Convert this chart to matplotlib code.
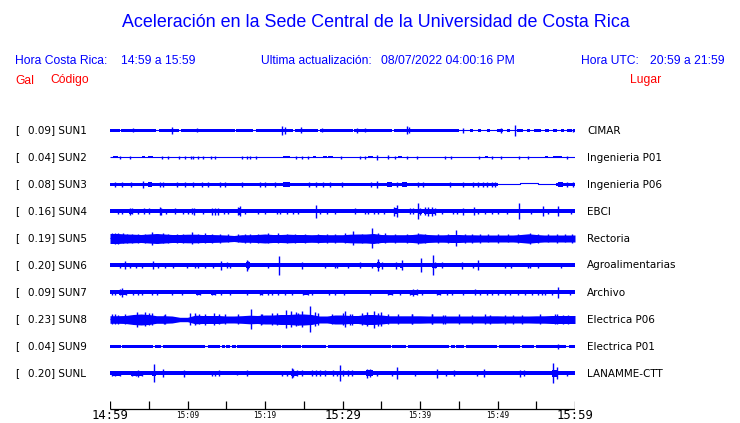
import numpy as np
import matplotlib
matplotlib.use('Agg')
import matplotlib.pyplot as plt

W, H = 740, 423
BLUE = '#0000ff'
RED = '#ff0000'

# ---------------- data ----------------
codes = ['SUN1', 'SUN2', 'SUN3', 'SUN4', 'SUN5', 'SUN6', 'SUN7', 'SUN8', 'SUN9', 'SUNL']
peak_gal = [0.09, 0.04, 0.08, 0.16, 0.19, 0.20, 0.09, 0.23, 0.04, 0.20]
places = ['CIMAR', 'Ingenieria P01', 'Ingenieria P06', 'EBCI', 'Rectoria',
          'Agroalimentarias', 'Archivo', 'Electrica P06', 'Electrica P01', 'LANAMME-CTT']
tick_minutes = list(range(0, 61, 5))
label_minutes = [0, 10, 20, 30, 40, 50, 60]
label_texts = ['14:59', '15:09', '15:19', '15:29', '15:39', '15:49', '15:59']
major_texts = ['14:59', '15:29', '15:59']

# trace envelopes: (start_min, end_min, half_amplitude)
# and spikes: (minute, half_amplitude); amplitudes in trace units
SUN1_band = [(0, 1.25, 1.4), (1.4, 5.9, 1.5), (6.3, 8.95, 1.5), (9.1, 12.6, 1.4), (12.7, 16.1, 1.4),
             (16.2, 18.4, 1.4), (18.8, 23.6, 1.4), (23.9, 26.9, 1.3), (27.1, 31.3, 1.4),
             (31.5, 36.4, 1.3), (36.7, 45.0, 1.4), (46.5, 46.8, 1.1), (47.5, 47.9, 1.1),
             (48.6, 49.0, 1.1), (49.9, 50.7, 1.2), (51.2, 51.6, 1.1), (52.5, 53.3, 1.2),
             (53.8, 54.2, 1.1), (54.7, 55.6, 1.1), (56.1, 56.6, 1.1), (57.1, 57.7, 1.1),
             (58.2, 58.6, 1.1), (59.0, 59.6, 1.1), (59.8, 60, 1.3)]
SUN1_spikes = [(3.0, 2), (8.0, 3.5), (11.2, 2), (22.2, 4.5), (22.6, 3.5), (24.6, 3), (27.3, 2),
               (31.9, 2.5), (32.9, 2), (38.3, 4), (38.6, 3), (45.5, 2.5), (50.5, 2.5),
               (52.2, 5.5), (59.8, 1.5)]

SUN2_band = [(0.43, 1.08, 1.0), (4.09, 4.52, 1.0), (4.95, 5.59, 1.0), (22.37, 23.23, 1.0),
             (26.24, 26.54, 1.0), (27.53, 27.96, 1.0), (28.17, 28.82, 1.0), (33.33, 33.98, 1.0),
             (37.2, 37.63, 1.0), (48.39, 48.82, 1.0), (56.13, 56.56, 1.0), (57.2, 58.28, 1.0)]
SUN2_spikes = [(1.29, 1.3), (2.58, 1.3), (6.67, 1.3), (7.53, 1.3), (8.9, 1.3), (9.68, 1.3),
               (10.45, 1.3), (10.75, 1.3), (11.31, 1.3), (11.96, 1.3), (13.03, 1.3), (13.55, 1.3),
               (16.99, 1.3), (17.63, 1.3), (18.06, 1.3), (18.84, 1.3), (23.96, 1.3), (24.82, 1.3),
               (25.59, 1.3), (29.76, 1.3), (32.26, 1.3), (32.9, 1.3), (34.41, 2.5), (35.83, 2.0),
               (36.77, 1.3), (38.28, 1.3), (39.57, 1.3), (43.23, 1.3), (43.96, 1.3), (47.66, 1.3),
               (49.25, 1.3), (50.41, 1.3), (52.82, 1.3), (53.89, 1.3), (58.92, 1.3)]

SUN3_band = [(0, 50.1, 1.7), (57.6, 60, 1.7), (4.86, 5.38, 2.3), (22.37, 23.23, 2.8),
             (35.7, 36.34, 2.3), (37.63, 38.28, 2.5), (57.85, 58.5, 2.3)]
SUN3_spikes = [(0.65, 2.3), (1.59, 2.3), (2.67, 2.3), (4.30, 3.5), (6.45, 2.3), (6.88, 2.3),
               (8.6, 2.3), (9.68, 2.3), (10.75, 2.3), (11.83, 2.3), (12.69, 2.3), (14.19, 2.3),
               (14.84, 2.3), (16.99, 2.3), (19.35, 2.3), (20.0, 2.3), (21.29, 2.3), (25.68, 2.3),
               (26.54, 2.3), (27.53, 2.3), (28.39, 2.3), (29.89, 2.3), (33.68, 2.3), (34.41, 3.5),
               (36.99, 2.3), (39.78, 2.3), (40.43, 2.3), (43.87, 2.3), (45.59, 2.3), (46.88, 2.3),
               (47.53, 2.3), (48.17, 2.3), (48.6, 2.3), (49.25, 2.3), (49.68, 2.3), (58.92, 2.3),
               (59.78, 2.3)]
SUN3_step_t = [0, 52.9, 55.2, 60]
SUN3_step_off = [0, -1.3, 0, 0]

SUN4_band = [(0, 60, 2.0), (2.5, 2.9, 2.8), (16.5, 16.9, 3.2), (36.7, 37.1, 3.0),
             (39.7, 40.2, 2.5), (40.5, 42.0, 2.8)]
SUN4_spikes = [(0.99, 2.5), (1.51, 2.5), (2.58, 3.5), (2.8, 3.0), (3.66, 2.5), (4.43, 3),
               (5.03, 3), (6.45, 4), (6.58, 3.5), (7.23, 2.5), (8.39, 3), (9.46, 2.5), (10.11, 2.5),
               (10.62, 3), (10.88, 3.5), (12.04, 2.5), (13.12, 3.5), (13.55, 3.5), (13.98, 3.5),
               (14.75, 2.5), (15.27, 2.5), (16.56, 4), (16.77, 5), (17.42, 2.5), (19.14, 2.5),
               (20.0, 2.5), (21.51, 2.5), (21.94, 2.5), (22.8, 2.5), (23.66, 2.5), (24.3, 2.5),
               (26.54, 6.5), (27.1, 2.5), (27.96, 2.5), (29.03, 2.5), (31.61, 3), (32.9, 2.5),
               (33.33, 2.5), (34.11, 2.5), (34.62, 2.5), (35.4, 2.5), (36.69, 4.5), (36.99, 6),
               (38.71, 3), (39.14, 3), (39.78, 8), (40.0, 3.5), (40.65, 4), (41.08, 4.5),
               (41.5, 4.5), (41.94, 3.5), (42.8, 2.5), (44.3, 2.5), (44.73, 2.5), (45.59, 3.5),
               (47.01, 4), (47.53, 2.5), (48.39, 2.5), (49.25, 2.5), (50.11, 2.5), (51.18, 2.5),
               (52.82, 8), (54.32, 2.5), (55.83, 5), (56.56, 2.5), (57.76, 5), (59.48, 2.5)]

SUN5_env = [5.0, 5.0, 4.5, 4.3, 4.0, 4.5, 5.0, 4.5, 4.0, 4.0,
            4.3, 4.3, 4.0, 4.0, 3.8, 3.5, 3.0, 3.8, 3.8, 4.0,
            4.5, 4.0, 4.0, 4.3, 4.0, 4.0, 3.8, 4.0, 3.8, 3.8,
            3.8, 4.3, 4.5, 4.5, 5.0, 4.0, 3.8, 3.8, 3.8, 4.0,
            4.7, 4.0, 3.7, 3.7, 4.0, 4.0, 3.7, 3.7, 3.5, 3.5,
            3.5, 3.5, 3.5, 4.0, 4.7, 4.0, 3.5, 3.5, 3.5, 3.5,
            3.5]
SUN5_spikes = [(0.65, 5.5), (1.72, 5), (2.15, 4.5), (3.66, 4.5), (5.38, 6.5), (6.88, 5),
               (8.6, 4.5), (10.62, 6), (13.12, 4.5), (15.27, 4), (16.56, 4), (18.06, 4.5),
               (20.43, 5), (22.8, 4.5), (25.16, 4.5), (29.03, 4.5), (31.4, 7), (33.76, 10),
               (35.48, 5), (36.77, 4.5), (39.78, 5.5), (42.37, 4.5), (44.6, 8), (46.67, 4.5),
               (48.82, 4), (51.4, 4), (54.19, 5.5), (56.56, 4), (58.71, 4),
               (0.22, 5), (1.08, 5.5), (2.8, 4.5), (4.52, 4.5), (6.24, 4.5), (7.53, 4.5),
               (9.46, 4.5), (11.4, 4.5), (12.26, 5), (14.19, 4.5), (17.42, 4.5), (19.14, 4.5),
               (21.72, 5), (23.87, 4.5), (26.88, 4.5), (27.96, 4.5), (30.32, 5), (32.47, 4.5),
               (34.62, 5), (38.28, 4.5), (40.65, 4.5), (43.66, 4.5), (45.81, 4.5), (47.74, 4.5),
               (50.11, 4.5), (52.69, 4.5), (55.27, 4.5), (57.63, 4.5), (59.57, 4.5)]

SUN6_band = [(0, 60, 2.0), (17.5, 18.0, 3.0), (34.4, 34.9, 3.0), (37.4, 37.8, 2.8), (41.5, 42.2, 2.8)]
SUN6_spikes = [(1.29, 2.5), (1.94, 4), (2.58, 2.5), (3.31, 2.5), (4.09, 2.5), (5.59, 4),
               (6.15, 2.5), (7.1, 2.5), (8.17, 2.5), (9.89, 2.5), (10.97, 2.5), (11.4, 2.5),
               (12.26, 2.5), (13.33, 2.5), (14.32, 4.5), (15.05, 3), (15.48, 2.5), (17.63, 5.5),
               (17.85, 4), (20.43, 2.5), (21.85, 9.5), (24.73, 3.5), (27.74, 2.5), (29.03, 2.5),
               (29.25, 2.5), (30.75, 2.5), (32.26, 3), (33.76, 2.5), (34.54, 6), (35.05, 3.5),
               (36.86, 3.5), (37.63, 5), (40.13, 7), (41.63, 10), (41.94, 3), (42.8, 3),
               (45.38, 3.5), (46.88, 2.5), (47.44, 5), (50.97, 2.5), (51.74, 2.5), (53.89, 2.5),
               (54.19, 2.5), (55.27, 2.5), (58.19, 2.5)]

SUN7_band = [(0, 60, 2.0), (1.2, 2.0, 2.8), (11.1, 11.7, 2.5), (13.0, 13.6, 2.5), (19.3, 19.8, 2.5),
             (24.9, 25.6, 2.5), (35.9, 36.4, 2.5), (38.9, 39.6, 2.8), (42.2, 42.6, 2.5)]
SUN7_spikes = [(0.22, 2.5), (0.65, 2.5), (1.3, 3), (1.59, 4.5), (2.02, 2.5), (3.01, 2.5),
               (3.66, 2.5), (4.09, 2.5), (5.38, 2.5), (6.02, 2.5), (7.96, 2.5), (9.33, 2.5),
               (11.18, 2.5), (11.61, 2.5), (13.12, 2.5), (13.55, 2.5), (14.32, 2.5), (15.48, 2.5),
               (17.63, 2.5), (19.35, 2.5), (19.57, 2.5), (20.43, 2.5), (20.86, 2.5), (21.72, 2.5),
               (22.58, 2.5), (23.44, 2.5), (24.95, 2.5), (25.59, 2.5), (26.02, 2.5), (28.26, 2.5),
               (29.03, 2.5), (30.24, 2.5), (33.55, 2.5), (35.91, 2.5), (36.34, 2.5), (37.42, 2.5),
               (38.71, 2.5), (39.14, 3.5), (39.57, 3), (40.22, 2.5), (42.15, 2.5), (42.58, 2.5),
               (43.44, 2.5), (44.09, 2.5), (45.59, 2.5), (47.1, 3), (47.74, 2.5), (48.6, 2.5),
               (49.25, 2.5), (50.11, 2.5), (50.97, 2.5), (51.61, 2.5), (52.69, 2.5), (53.55, 2.5),
               (54.41, 2.5), (55.27, 2.5), (55.7, 2.5), (56.13, 2.5), (56.99, 2.5), (57.85, 5.5),
               (59.35, 2.5)]

SUN8_env = [3.8, 3.8, 4.0, 5.0, 5.5, 5.0, 3.8, 3.8, 3.5, 2.2,
            2.2, 4.3, 4.0, 4.0, 4.0, 3.5, 3.5, 3.8, 4.3, 4.0,
            4.5, 4.5, 5.0, 5.0, 5.5, 5.5, 5.0, 3.5, 3.5, 4.5,
            4.5, 4.0, 4.0, 5.0, 5.0, 4.5, 3.7, 3.7, 3.7, 3.7,
            3.7, 3.5, 3.5, 3.5, 3.5, 3.5, 3.5, 3.5, 3.5, 3.7,
            3.7, 3.5, 3.5, 3.5, 3.5, 3.7, 3.7, 4.0, 4.0, 4.0,
            4.0]
SUN8_spikes = [(0.3, 5), (1.0, 4.5), (3.5, 7.5), (4.5, 7), (5.0, 6), (7.0, 4.5), (10.3, 6),
               (11.5, 5), (13.4, 6), (14.0, 5), (18.2, 10), (19.5, 5.5), (21.5, 6), (22.7, 9),
               (23.4, 8), (24.0, 7), (24.8, 8), (25.8, 13), (26.5, 7), (30.0, 6), (30.3, 8),
               (31.0, 5.5), (33.1, 7), (34.0, 8.5), (34.6, 6.5), (35.0, 7), (39.0, 5), (41.5, 5),
               (43.0, 4.5), (45.0, 5), (49.0, 4.5), (52.0, 4.5), (55.5, 5), (57.7, 5), (58.5, 4.5),
               (0.65, 5), (1.94, 5), (5.38, 6), (7.1, 5), (10.97, 6), (12.26, 5.5), (14.84, 5),
               (16.56, 5), (19.57, 5), (20.86, 6), (24.3, 6), (26.88, 6), (28.6, 5), (31.18, 5.5),
               (32.47, 6), (35.91, 5), (37.2, 5), (38.92, 5), (41.51, 5), (43.23, 4.5),
               (46.67, 4.5), (48.39, 5), (50.97, 4.5), (53.12, 4.5), (57.42, 5), (59.14, 4.5)]

SUN9_band = [(0, 1.4, 1.4), (1.6, 5.6, 1.4), (5.8, 6.6, 1.4), (6.8, 12.3, 1.4), (12.7, 14.2, 1.4),
             (14.4, 14.8, 1.4), (15.0, 15.5, 1.4), (15.7, 16.2, 1.4), (16.4, 22.0, 1.4),
             (22.2, 24.6, 1.4), (24.8, 27.9, 1.4), (28.1, 36.2, 1.4), (36.4, 38.2, 1.4),
             (38.4, 43.7, 1.4), (44.0, 44.5, 1.4), (44.7, 45.7, 1.4), (45.9, 49.9, 1.4),
             (50.2, 52.9, 1.4), (53.2, 54.7, 1.4), (55.0, 58.9, 1.4), (59.2, 60, 1.4)]
SUN9_spikes = [(57.8, 2.5)]

SUNL_band = [(0, 60, 2.0), (0.2, 1.3, 2.4), (2.7, 4.2, 2.4), (5.4, 5.9, 2.5), (23.3, 24.2, 2.8),
             (33.0, 33.9, 3.0), (57.0, 57.8, 3.5)]
SUNL_spikes = [(0.22, 2.5), (0.65, 2.5), (1.29, 2.5), (2.8, 2.5), (3.3, 2.5), (3.57, 3.5),
               (4.09, 2.5), (5.72, 9), (6.88, 4), (9.55, 3.5), (13.12, 2.5), (13.55, 2.5),
               (14.11, 3), (16.34, 2), (17.63, 3), (22.15, 2.5), (22.8, 2.5), (23.44, 5),
               (23.66, 4), (24.09, 3), (24.73, 3), (26.02, 3), (26.54, 3), (27.1, 3), (27.74, 3),
               (28.82, 3), (29.25, 2.5), (29.72, 8), (30.11, 3), (30.75, 3), (31.18, 3),
               (33.12, 4.5), (33.55, 4), (34.41, 2.5), (36.34, 2.5), (37.08, 6), (39.35, 2.5),
               (42.15, 4.5), (43.31, 2.5), (44.43, 3), (47.31, 2.5), (48.26, 4), (52.9, 3.5),
               (53.46, 3), (57.2, 10), (57.63, 6), (58.92, 2.5)]

bands = [SUN1_band, SUN2_band, SUN3_band, SUN4_band, None, SUN6_band, SUN7_band, None, SUN9_band, SUNL_band]
envs = [None, None, None, None, SUN5_env, None, None, SUN8_env, None, None]
spikes = [SUN1_spikes, SUN2_spikes, SUN3_spikes, SUN4_spikes, SUN5_spikes, SUN6_spikes,
          SUN7_spikes, SUN8_spikes, SUN9_spikes, SUNL_spikes]

# ---------------- figure ----------------
fig = plt.figure(figsize=(W / 100, H / 100), dpi=100)
fig.patch.set_facecolor('white')


def fxy(x, y):
    return x / W, 1 - y / H


ax = fig.add_axes([110 / W, 0, 465 / W, 1])
ax.set_xlim(0, 60)
ax.set_ylim(H, 0)
ax.axis('off')

Y0, DY = 130.5, 27.0
for i in range(len(codes)):
    y = Y0 + DY * i
    if i == 2:
        ax.step(SUN3_step_t, [y + o for o in SUN3_step_off], where='post', color=BLUE, lw=0.8)
    else:
        ax.hlines(y, 0, 60, color=BLUE, lw=0.8)
    if bands[i]:
        st = np.array([b[0] for b in bands[i]])
        wd = np.array([b[1] - b[0] for b in bands[i]])
        hh = np.array([b[2] for b in bands[i]])
        ax.bar(st, 2 * hh, width=wd, bottom=y - hh, align='edge', color=BLUE,
               linewidth=0, antialiased=False)
    if envs[i] is not None:
        e = np.array(envs[i])
        t = np.arange(len(e))
        ax.fill_between(t, y - e, y + e, color=BLUE, linewidth=0, antialiased=False)
    if spikes[i]:
        ts = np.array([s[0] for s in spikes[i]])
        hs = np.array([s[1] for s in spikes[i]])
        ax.vlines(ts, y - hs, y + hs, color=BLUE, lw=1.0)

    fig.text(*fxy(15, y), '[', ha='left', va='center', fontsize=7.5,
             family='DejaVu Sans', color='black')
    fig.text(*fxy(28, y), f'{peak_gal[i]:.2f}] {codes[i]}', ha='left', va='center',
             fontsize=7.5, family='DejaVu Sans', color='black')
    fig.text(*fxy(587, y), places[i], ha='left', va='center', fontsize=7.5,
             family='DejaVu Sans', color='black')

# time axis
ax.hlines(409, 0, 60, color='black', lw=0.9)
ax.vlines(tick_minutes, 401, 409, color='black', lw=0.9)
for m, lab in zip(label_minutes, label_texts):
    if lab in major_texts:
        ax.text(m, 415.5, lab, ha='center', va='center', fontsize=8.8,
                family='DejaVu Sans Mono', color='black', clip_on=False)
    else:
        ax.text(m, 415.0, lab, ha='center', va='center', fontsize=5.5,
                family='DejaVu Sans Mono', color='black', clip_on=False)

# header texts
hf = 'Liberation Sans'
fig.text(*fxy(376, 22.5), 'Aceleración en la Sede Central de la Universidad de Costa Rica',
         ha='center', va='center', fontsize=12.9, family=hf, color=BLUE)
fig.text(*fxy(15, 60.5), 'Hora Costa Rica:', ha='left', va='center', fontsize=8.7, family=hf, color=BLUE)
fig.text(*fxy(120.7, 60.5), '14:59 a 15:59', ha='left', va='center', fontsize=8.7, family=hf, color=BLUE)
fig.text(*fxy(260.7, 60.5), 'Ultima actualización:', ha='left', va='center', fontsize=8.7, family=hf, color=BLUE)
fig.text(*fxy(381, 60.5), '08/07/2022 04:00:16 PM', ha='left', va='center', fontsize=8.7, family=hf, color=BLUE)
fig.text(*fxy(581, 60.5), 'Hora UTC:', ha='left', va='center', fontsize=8.7, family=hf, color=BLUE)
fig.text(*fxy(725, 60.5), '20:59 a 21:59', ha='right', va='center', fontsize=8.7, family=hf, color=BLUE)
fig.text(*fxy(15, 80.5), 'Gal', ha='left', va='center', fontsize=8.7, family=hf, color=RED)
fig.text(*fxy(50, 80.5), 'Código', ha='left', va='center', fontsize=8.7, family=hf, color=RED)
fig.text(*fxy(630, 80.5), 'Lugar', ha='left', va='center', fontsize=8.7, family=hf, color=RED)

fig.savefig('out.png', dpi=100, facecolor='white')
